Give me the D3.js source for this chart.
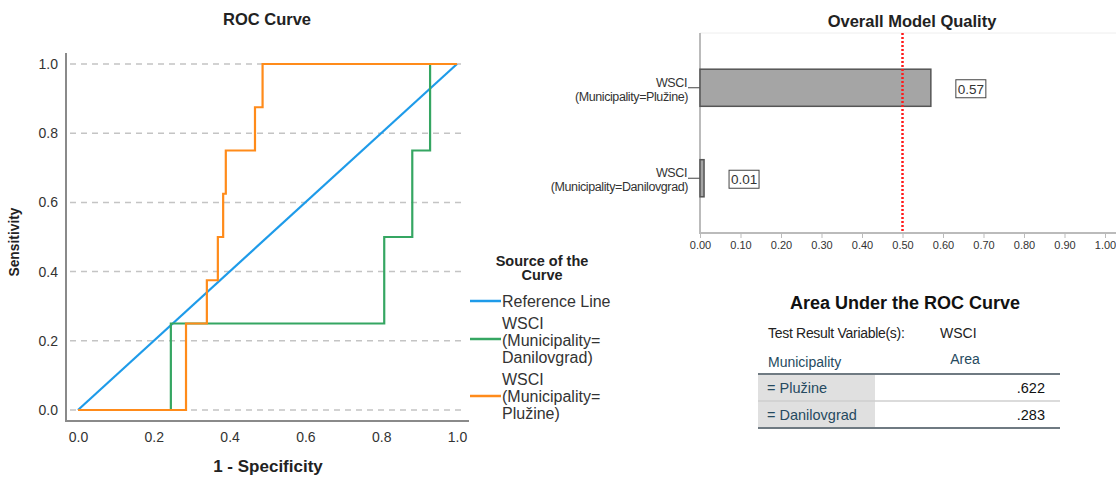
<!DOCTYPE html>
<html lang="en">
<head>
<meta charset="UTF-8">
<title>ROC Curve</title>
<script src="https://d3js.org/d3.v7.min.js"></script>
<style>
    body { margin: 0; background: #fff; font-family: "Liberation Sans", Arial, sans-serif; }
    svg { display: block; }
    .tick text { fill: #333; }
</style>
</head>
<body>
<svg id="chart" width="1116" height="483"></svg>
<script>
    // ROC points
    const refX = [0, 1];
    const refY = [0, 1];
    const danX = [0, 0.245, 0.245, 0.808, 0.808, 0.882, 0.882, 0.929, 0.929, 1];
    const danY = [0, 0, 0.25, 0.25, 0.5, 0.5, 0.75, 0.75, 1, 1];
    const pluX = [0, 0.285, 0.285, 0.34, 0.34, 0.369, 0.369, 0.383, 0.383, 0.39, 0.39, 0.467, 0.467, 0.487, 0.487, 1];
    const pluY = [0, 0, 0.25, 0.25, 0.375, 0.375, 0.5, 0.5, 0.625, 0.625, 0.75, 0.75, 0.875, 0.875, 1, 1];
    const rocTicks = [0, 0.2, 0.4, 0.6, 0.8, 1.0];

    const seriesNames = ["Reference Line", "WSCI (Municipality= Danilovgrad)", "WSCI (Municipality= Plužine)"];
    const seriesColors = ["#1E9BE9", "#35A662", "#FF8B1A"];

    // overall model quality
    const qualityCats = ["WSCI (Municipality=Plužine)", "WSCI (Municipality=Danilovgrad)"];
    const qualityVals = [0.57, 0.01];
    const qualityTicks = d3.range(0, 11).map(i => i / 10);
    const qualityRef = 0.5;

    // AUC table
    const aucRows = ["= Plužine", "= Danilovgrad"];
    const aucVals = [".622", ".283"];

    const svg = d3.select("#chart");

    // ---------- ROC chart ----------
    const x = d3.scaleLinear().domain([0, 1]).range([78, 457]);
    const y = d3.scaleLinear().domain([0, 1]).range([410, 64]);

    svg.append("text").attr("x", 267).attr("y", 25).attr("text-anchor", "middle")
        .attr("font-size", 16.5).attr("font-weight", "bold").attr("fill", "#222").text("ROC Curve");

    // dashed grid
    svg.append("g").selectAll("line").data(rocTicks).join("line")
        .attr("x1", 70).attr("x2", 466)
        .attr("y1", d => y(d)).attr("y2", d => y(d))
        .attr("stroke", "#c4c4c4").attr("stroke-width", 1.5).attr("stroke-dasharray", "6,5");

    const yAxis = svg.append("g").attr("transform", "translate(66,0)")
        .call(d3.axisLeft(y).tickValues(rocTicks).tickFormat(d3.format(".1f")).tickSize(0).tickPadding(8));
    yAxis.select(".domain").remove();
    yAxis.selectAll("text").attr("font-size", 14).attr("font-family", "Liberation Sans, Arial");
    svg.append("line").attr("x1", 66).attr("x2", 66).attr("y1", 53).attr("y2", 422)
        .attr("stroke", "#8a8a8a").attr("stroke-width", 2);

    const xAxis = svg.append("g").attr("transform", "translate(0,421)")
        .call(d3.axisBottom(x).tickValues(rocTicks).tickFormat(d3.format(".1f")).tickSize(0).tickPadding(11));
    xAxis.select(".domain").remove();
    xAxis.selectAll("text").attr("font-size", 14).attr("font-family", "Liberation Sans, Arial");
    svg.append("line").attr("x1", 65).attr("x2", 469).attr("y1", 421).attr("y2", 421)
        .attr("stroke", "#8a8a8a").attr("stroke-width", 2);

    svg.append("text").attr("transform", "translate(19,242) rotate(-90)").attr("text-anchor", "middle")
        .attr("font-size", 15).attr("font-weight", "bold").attr("fill", "#222")
        .attr("textLength", 69).attr("lengthAdjust", "spacingAndGlyphs").text("Sensitivity");
    svg.append("text").attr("x", 268).attr("y", 472).attr("text-anchor", "middle")
        .attr("font-size", 17).attr("font-weight", "bold").attr("fill", "#222").text("1 - Specificity");

    const line = d3.line().x(d => x(d[0])).y(d => y(d[1]));
    const series = [d3.zip(refX, refY), d3.zip(danX, danY), d3.zip(pluX, pluY)];
    svg.append("g").selectAll("path").data(series).join("path")
        .attr("d", line).attr("fill", "none")
        .attr("stroke", (d, i) => seriesColors[i]).attr("stroke-width", 2.2);

    // legend
    const lg = svg.append("g");
    lg.append("text").attr("x", 542).attr("y", 266).attr("text-anchor", "middle")
        .attr("font-size", 14.5).attr("font-weight", "bold").attr("fill", "#222")
        .selectAll("tspan").data(["Source of the", "Curve"]).join("tspan")
        .attr("x", 542).attr("dy", (d, i) => i ? 14 : 0).text(d => d);
    const legendRows = [
        {lines: ["Reference Line"], top: 307, swatch: 301},
        {lines: ["WSCI", "(Municipality=", "Danilovgrad)"], top: 329, swatch: 339},
        {lines: ["WSCI", "(Municipality=", "Plužine)"], top: 385, swatch: 396}
    ];
    legendRows.forEach((r, i) => {
        lg.append("line").attr("x1", 470).attr("x2", 501).attr("y1", r.swatch).attr("y2", r.swatch)
            .attr("stroke", seriesColors[i]).attr("stroke-width", 2.5);
        lg.append("text").attr("font-size", 16).attr("fill", "#333")
            .selectAll("tspan").data(r.lines).join("tspan")
            .attr("x", 502).attr("y", (d, j) => r.top + j * 17).text(d => d);
    });

    // ---------- Overall Model Quality ----------
    const qx = d3.scaleLinear().domain([0, 1]).range([700, 1105]);
    const qy = d3.scaleBand().domain(qualityCats).range([33, 233]).paddingInner(0.59).paddingOuter(0.4);

    svg.append("text").attr("x", 912).attr("y", 27).attr("text-anchor", "middle")
        .attr("font-size", 16.5).attr("font-weight", "bold").attr("fill", "#222").text("Overall Model Quality");

    svg.append("line").attr("x1", 700).attr("x2", 1116).attr("y1", 33).attr("y2", 33)
        .attr("stroke", "#eee").attr("stroke-width", 1);

    const qxAxis = svg.append("g").attr("transform", "translate(0,233)")
        .call(d3.axisBottom(qx).tickValues(qualityTicks).tickFormat(d3.format(".2f")).tickSize(5).tickPadding(3));
    qxAxis.select(".domain").remove();
    qxAxis.selectAll("line").attr("stroke", "#bbb");
    qxAxis.selectAll("text").attr("font-size", 11).attr("font-family", "Liberation Sans, Arial");
    svg.append("line").attr("x1", 699).attr("x2", 1116).attr("y1", 233).attr("y2", 233)
        .attr("stroke", "#bbb").attr("stroke-width", 2);
    svg.append("line").attr("x1", 700).attr("x2", 700).attr("y1", 33).attr("y2", 234)
        .attr("stroke", "#bbb").attr("stroke-width", 2);

    // category labels with small ticks
    const qLab = svg.append("g").selectAll("g").data(qualityCats).join("g")
        .attr("transform", d => `translate(0,${qy(d) + qy.bandwidth() / 2})`);
    qLab.append("line").attr("x1", 688).attr("x2", 700).attr("y1", 0).attr("y2", 0)
        .attr("stroke", "#444").attr("stroke-width", 1);
    qLab.append("text").attr("text-anchor", "end").attr("font-size", 12.5).attr("fill", "#333")
        .attr("letter-spacing", "-0.4")
        .selectAll("tspan").data(d => {
            const k = d.indexOf(" ");
            return [d.slice(0, k), d.slice(k + 1)];
        }).join("tspan")
        .attr("x", (d, j) => j ? 688 : 687).attr("y", (d, j) => j ? 13 : -1).text(d => d);

    svg.append("g").selectAll("rect").data(qualityVals).join("rect")
        .attr("x", qx(0)).attr("y", (d, i) => qy(qualityCats[i]))
        .attr("width", d => qx(d) - qx(0)).attr("height", qy.bandwidth())
        .attr("fill", "#a5a5a5").attr("stroke", "#555").attr("stroke-width", 1.5);

    svg.append("line").attr("x1", qx(qualityRef)).attr("x2", qx(qualityRef))
        .attr("y1", 33).attr("y2", 233)
        .attr("stroke", "#ff1a1a").attr("stroke-width", 2.5).attr("stroke-dasharray", "2,2");

    const vLab = svg.append("g").selectAll("g").data(qualityVals).join("g")
        .attr("transform", (d, i) => `translate(${qx(d) + 25},${qy(qualityCats[i]) + qy.bandwidth() / 2 + 1})`);
    vLab.append("rect").attr("x", 0).attr("y", -9).attr("width", 30).attr("height", 18)
        .attr("fill", "#fff").attr("stroke", "#444").attr("stroke-width", 1);
    vLab.append("text").attr("x", 15).attr("y", 5).attr("text-anchor", "middle")
        .attr("font-size", 13.5).attr("fill", "#333").text(d => d3.format(".2f")(d));

    // ---------- AUC table ----------
    const tb = svg.append("g");
    tb.append("text").attr("x", 905).attr("y", 309).attr("text-anchor", "middle")
        .attr("font-size", 18).attr("font-weight", "bold").attr("fill", "#111").text("Area Under the ROC Curve");
    tb.append("text").attr("x", 768).attr("y", 338).attr("font-size", 14).attr("fill", "#222")
        .attr("letter-spacing", "-0.3").text("Test Result Variable(s):");
    tb.append("text").attr("x", 940).attr("y", 338).attr("font-size", 14).attr("fill", "#222").text("WSCI");
    tb.append("text").attr("x", 768).attr("y", 367).attr("font-size", 14).attr("fill", "#264A60").text("Municipality");
    tb.append("text").attr("x", 965).attr("y", 364).attr("text-anchor", "middle")
        .attr("font-size", 14).attr("fill", "#264A60").text("Area");

    const rowY = d3.scaleBand().domain(aucRows).range([374, 428]);
    tb.selectAll("rect.cell").data(aucRows).join("rect").attr("class", "cell")
        .attr("x", 758).attr("y", d => rowY(d)).attr("width", 117).attr("height", rowY.bandwidth())
        .attr("fill", "#E0E0E0");
    tb.selectAll("text.rl").data(aucRows).join("text").attr("class", "rl")
        .attr("x", 767).attr("y", d => rowY(d) + rowY.bandwidth() / 2 + 5)
        .attr("font-size", 14.5).attr("fill", "#264A60").text(d => d);
    tb.selectAll("text.rv").data(aucVals).join("text").attr("class", "rv")
        .attr("x", 1045).attr("y", (d, i) => rowY(aucRows[i]) + rowY.bandwidth() / 2 + 5)
        .attr("text-anchor", "end").attr("font-size", 14.5).attr("fill", "#111").text(d => d);
    tb.append("line").attr("x1", 758).attr("x2", 1060).attr("y1", 374).attr("y2", 374)
        .attr("stroke", "#6f7a82").attr("stroke-width", 2);
    tb.append("line").attr("x1", 758).attr("x2", 1060).attr("y1", 401).attr("y2", 401)
        .attr("stroke", "#cfcfcf").attr("stroke-width", 1.5);
    tb.append("line").attr("x1", 758).attr("x2", 1060).attr("y1", 428).attr("y2", 428)
        .attr("stroke", "#6f7a82").attr("stroke-width", 2);
</script>
</body>
</html>
